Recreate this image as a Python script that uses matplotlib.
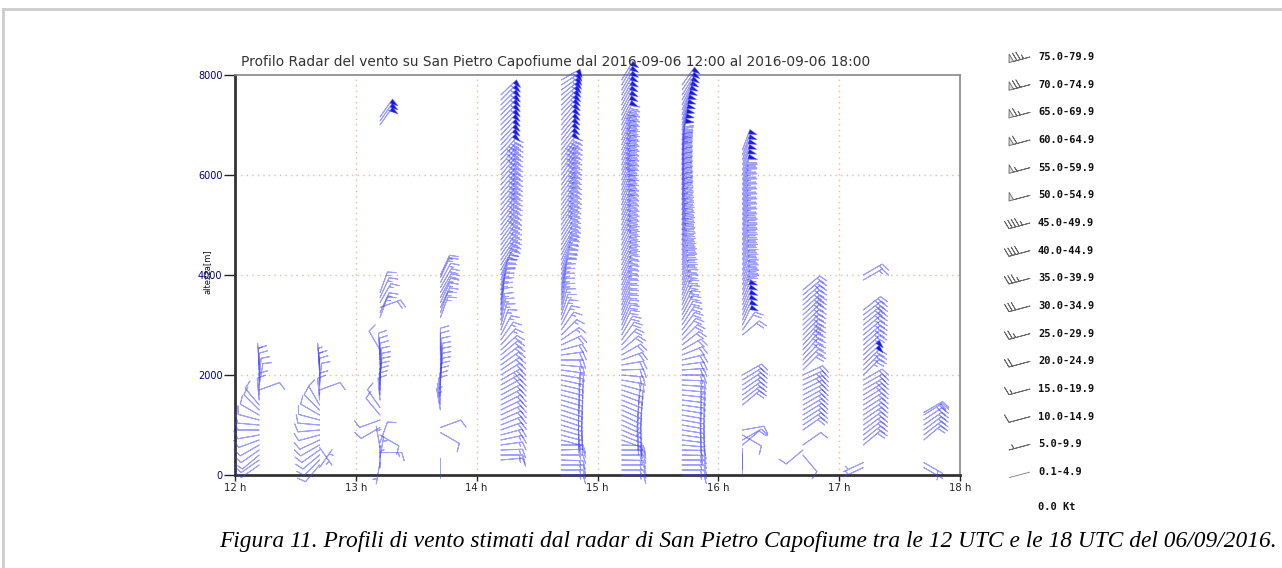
import numpy as np
import matplotlib
matplotlib.use('Agg')
import matplotlib.pyplot as plt
from matplotlib.lines import Line2D

# Radar wind profiles, San Pietro Capofiume, 2016-09-06 12-18 UTC
# one profile every 30 min; height [m], speed [kt], direction [deg, wind from]

t_1212 = 12.2
h_1212 = [200, 300, 400, 500, 600, 700, 800, 900, 1000, 1100, 1200, 1300, 1400,
          1500, 1600, 1700, 1800, 1900, 2000, 2100, 2200]
s_1212 = [12, 12, 11, 12, 13, 12, 11, 12, 12, 11, 10, 10, 12,
          10, 10, 11, 12, 11, 10, 10, 9]
d_1212 = [55, 55, 50, 55, 60, 70, 80, 90, 95, 105, 120, 135, 140,
          175, 180, 250, 190, 185, 180, 178, 176]

t_1242 = 12.7
h_1242 = [150, 200, 300, 400, 500, 550, 600, 700, 800, 900, 1000, 1100, 1200, 1300, 1400,
          1500, 1600, 1700, 1800, 1900, 2000, 2100, 2200]
s_1242 = [8, 12, 12, 13, 12, 8, 12, 13, 12, 12, 12, 12, 11, 10, 10,
          10, 10, 12, 11, 10, 10, 9, 9]
d_1242 = [215, 40, 45, 50, 55, 325, 60, 65, 75, 85, 95, 105, 120, 135, 150,
          175, 180, 250, 185, 180, 178, 176, 175]

t_1312 = 13.2
h_1312 = [150, 250, 350, 450, 550, 650, 800, 950, 1100, 1200, 1350,
          1500, 1600, 1700, 1800, 1900, 2000, 2100, 2200, 2300, 2400, 2500,
          3150, 3250, 3350, 3450, 3550, 3650,
          7000, 7080, 7160]
s_1312 = [8, 6, 9, 15, 8, 10, 10, 12, 12, 10, 10,
          10, 11, 12, 12, 12, 13, 13, 12, 12, 11, 10,
          15, 18, 20, 18, 15, 15,
          52, 55, 52]
d_1312 = [180, 10, 190, 270, 170, 200, 300, 60, 70, 140, 145,
          175, 178, 180, 182, 185, 185, 183, 180, 178, 176, 150,
          200, 205, 250, 210, 205, 200,
          215, 215, 215]

t_1342 = 13.7
h_1342 = [350, 850, 950,
          1300, 1400, 1500, 1600, 1700, 1800, 1900, 2000, 2100, 2200, 2300, 2400, 2500,
          3150, 3250, 3350, 3450, 3550, 3650, 3750, 3850, 3950, 4000]
s_1342 = [4, 10, 12,
          8, 9, 10, 10, 11, 12, 12, 13, 13, 12, 12, 12, 11,
          15, 15, 18, 18, 18, 20, 20, 18, 18, 15]
d_1342 = [0, 300, 250,
          170, 172, 175, 178, 180, 182, 185, 185, 185, 185, 183, 180, 180,
          200, 200, 205, 205, 208, 210, 210, 208, 205, 205]

# range gates of the full profiles [m]
gates = [0, 100, 200, 300, 400, 500, 600, 700, 800, 900,
         1000, 1100, 1200, 1300, 1400, 1500, 1600, 1700, 1800, 1900,
         2000, 2100, 2200, 2300, 2400, 2500, 2600, 2700, 2800, 2900,
         3000, 3100, 3200, 3300, 3400, 3500, 3600, 3700, 3800, 3900,
         4000, 4100, 4200, 4300, 4400, 4500, 4600, 4700, 4800, 4900,
         5000, 5100, 5200, 5300, 5400, 5500, 5600, 5700, 5800, 5900,
         6000, 6100, 6200, 6300, 6400, 6500, 6600, 6700, 6800, 6900,
         7000, 7100, 7200, 7300, 7400, 7500, 7600, 7700, 7800, 7900]

t_1412 = 14.2
h_1412 = gates[3:77]
s_1412 = [15, 16, 16, 18, 18, 20,
          20, 20, 22, 22, 22, 23, 24, 24, 24, 25, 25, 24, 24, 23, 22, 22, 20,
          18, 18, 16, 16,
          16, 16, 15, 15, 16, 17, 18, 18, 20, 20,
          22, 25, 28, 30, 30,
          30, 32, 32, 34, 35, 35, 36, 38, 38, 40, 40, 42, 42, 44, 44, 45, 45, 46, 47, 48,
          50, 50, 52, 52, 53, 54, 55, 55, 56, 56, 57, 58]
d_1412 = [265, 270, 268, 262, 258, 255,
          250, 248, 246, 245, 244, 243, 242, 242, 241, 240, 240, 238, 236, 234, 232, 230, 228,
          222, 215, 208, 200,
          195, 192, 190, 188, 188, 190, 192, 195, 198, 200,
          205, 210, 212, 214, 215,
          215, 215, 216, 216, 217, 217, 218, 218, 218, 219, 219, 219, 220, 220, 220, 220, 221, 221, 221, 222,
          222, 222, 223, 223, 223, 224, 224, 224, 225, 225, 225, 226]

t_1442 = 14.7
h_1442 = gates[0:80]
s_1442 = [18, 18, 17, 18, 19, 18, 18,
          20, 20, 21, 22, 22, 22, 23, 23, 24, 24, 24, 24, 24, 23, 23, 22, 22, 21, 20, 20, 19, 18,
          18, 17, 17, 16, 16, 16, 17, 17, 18, 18, 19, 20, 22, 24, 26, 28,
          30, 31, 32, 33, 34, 35, 36, 37, 38, 38, 39, 40, 41, 42, 43, 44, 45, 46, 47, 48,
          50, 51, 52, 53, 54, 55, 55, 56, 57, 58, 58, 59, 60, 60, 60]
d_1442 = [270, 270, 270, 272, 270, 268, 270,
          285, 285, 286, 287, 288, 288, 288, 287, 286, 285, 284, 283, 282, 280, 278, 275, 270, 262, 255, 245, 235, 225,
          215, 208, 202, 198, 195, 193, 192, 192, 193, 195, 197, 200, 202, 204, 206, 208,
          210, 210, 211, 211, 212, 212, 213, 213, 213, 214, 214, 214, 215, 215, 215, 215, 216, 216, 216, 217,
          217, 218, 218, 219, 220, 220, 221, 222, 224, 226, 228, 231, 234, 237, 240]

t_1512 = 15.2
h_1512 = gates[0:80]
s_1512 = [18, 18, 19, 19, 20, 20, 20,
          22, 22, 22, 23, 23, 23, 24, 24, 24, 24, 24, 23, 23, 22, 22, 22, 21, 21, 20, 20, 20, 20,
          20, 20, 21, 21, 22, 22, 23, 24, 25, 26, 27, 28, 29, 30, 31, 32,
          33, 34, 35, 36, 36, 37, 38, 38, 39, 40, 40, 41, 42, 43, 44, 45, 46, 46, 47, 48,
          48, 49, 49, 49, 49, 49, 50, 52, 54, 55, 56, 57, 58, 58, 58]
d_1512 = [270, 270, 270, 271, 270, 270, 272,
          290, 292, 293, 294, 295, 295, 294, 293, 292, 290, 288, 285, 280, 275, 268, 260, 250, 240, 230, 222, 215, 210,
          205, 204, 203, 202, 202, 202, 202, 203, 203, 204, 204, 205, 205, 205, 205, 205,
          205, 205, 204, 204, 204, 203, 203, 203, 203, 202, 202, 202, 202, 203, 203, 203, 204, 204, 204, 205,
          205, 205, 206, 206, 206, 206, 207, 207, 208, 208, 209, 209, 210, 210, 211]

t_1542 = 15.7
h_1542 = gates[0:79]
s_1542 = [18, 18, 19, 19, 20, 20,
          21, 22, 22, 22, 23, 23, 23, 24, 24, 24, 24, 23, 23, 22, 22, 21, 21, 20, 20,
          20, 21, 21, 22, 22, 23, 24, 25, 26, 26, 27, 28, 29, 29, 30, 30, 31, 32, 32, 33,
          33, 34, 34, 35, 35, 36, 37, 37, 38, 38, 39, 40, 40, 41, 41, 42, 43, 43, 44, 44,
          46, 48, 50, 51, 52, 52, 53, 53, 54, 54, 55, 55, 55, 55]
d_1542 = [270, 270, 270, 270, 271, 271,
          275, 277, 278, 279, 280, 280, 280, 279, 278, 277, 276, 275, 274, 272, 270, 266, 262, 256, 248,
          240, 232, 225, 220, 216, 213, 210, 208, 206, 204, 202, 200, 199, 198, 197, 196, 195, 194, 193, 192,
          191, 190, 190, 189, 189, 188, 188, 187, 187, 186, 186, 186, 185, 185, 185, 185, 185, 185, 185, 186,
          187, 188, 190, 192, 194, 196, 198, 200, 203, 206, 209, 212, 214, 215]

t_1612 = 16.2
h_1612 = [0, 100, 600, 700, 800, 900,
          1400, 1500, 1600, 1700, 1800, 1900, 2000] + gates[28:66]
s_1612 = [3, 3, 12, 12, 10, 12,
          20, 22, 22, 24, 24, 22, 20,
          20, 20, 50, 52, 54, 55, 53, 52, 38, 36, 35, 35, 34, 33, 32, 32, 31, 30, 30, 30,
          30, 30, 28, 28, 27, 27, 26, 26, 25, 25, 28, 30, 50, 52, 53, 54, 55, 55]
d_1612 = [180, 180, 230, 240, 300, 260,
          230, 232, 234, 235, 236, 238, 240,
          230, 215, 205, 204, 203, 203, 202, 202, 200, 200, 199, 199, 198, 198, 197, 197, 197, 196, 196, 196,
          195, 195, 195, 195, 195, 195, 195, 195, 195, 195, 196, 197, 198, 198, 199, 199, 200, 200]

t_1642 = 16.7
h_1642 = [400, 500, 600] + gates[9:21] + gates[21:38]
s_1642 = [10, 10, 10,
          20, 20, 21, 22, 22, 23, 23, 24, 24, 25, 25, 24,
          22, 22, 24, 25, 26, 28, 30, 30, 28, 26, 26, 28, 30, 30, 28, 25, 22]
d_1642 = [320, 50, 235,
          235, 236, 237, 238, 239, 240, 241, 242, 243, 244, 245, 245,
          225, 224, 223, 222, 222, 222, 223, 224, 225, 226, 226, 227, 228, 228, 229, 230, 230]

t_1712 = 17.2
h_1712 = [150, 250] + gates[6:20] + gates[20:34] + [3900, 4000]
s_1712 = [8, 8,
          20, 20, 21, 21, 22, 22, 23, 23, 24, 24, 25, 25, 24, 24,
          25, 26, 26, 50, 50, 27, 27, 28, 28, 29, 29, 30, 30, 28,
          15, 16]
d_1712 = [65, 65,
          230, 231, 232, 233, 234, 235, 236, 237, 237, 238, 238, 239, 240, 240,
          225, 226, 226, 227, 227, 228, 228, 229, 230, 230, 231, 231, 232, 232,
          240, 240]

t_1742 = 17.7
h_1742 = [150, 250, 700, 800, 900, 1000, 1100, 1200, 1250]
s_1742 = [8, 8, 20, 21, 22, 23, 24, 25, 24]
d_1742 = [300, 300, 230, 232, 233, 235, 236, 238, 240]

profiles = [
    (t_1212, h_1212, s_1212, d_1212),
    (t_1242, h_1242, s_1242, d_1242),
    (t_1312, h_1312, s_1312, d_1312),
    (t_1342, h_1342, s_1342, d_1342),
    (t_1412, h_1412, s_1412, d_1412),
    (t_1442, h_1442, s_1442, d_1442),
    (t_1512, h_1512, s_1512, d_1512),
    (t_1542, h_1542, s_1542, d_1542),
    (t_1612, h_1612, s_1612, d_1612),
    (t_1642, h_1642, s_1642, d_1642),
    (t_1712, h_1712, s_1712, d_1712),
    (t_1742, h_1742, s_1742, d_1742),
]

# legend of speed classes
leg_labels = ['75.0-79.9', '70.0-74.9', '65.0-69.9', '60.0-64.9', '55.0-59.9', '50.0-54.9',
              '45.0-49.9', '40.0-44.9', '35.0-39.9', '30.0-34.9', '25.0-29.9', '20.0-24.9',
              '15.0-19.9', '10.0-14.9', '5.0-9.9', '0.1-4.9', '0.0 Kt']
leg_speed = [77.5, 72.5, 67.5, 62.5, 57.5, 52.5, 47.5, 42.5, 37.5, 32.5, 27.5, 22.5,
             17.5, 12.5, 7.5, 2.5, 0.0]
leg_dir = 75

DPI = 100
BARB_LEN = 5.6           # matplotlib barb length parameter
STAFF_PX = BARB_LEN ** 2 / 2 * DPI / 72.0
LINE_C = (0.25, 0.25, 1.0, 0.5)
FLAG_C = (0.0, 0.0, 0.85, 0.9)


def draw_barbs(ax, x, y, spd, wdir, lc, fc, lw):
    x = np.asarray(x, float)
    y = np.asarray(y, float)
    spd = np.asarray(spd, float)
    rad = np.radians(np.asarray(wdir, float))
    # staff drawn towards where the wind blows
    u = spd * np.sin(rad)
    v = spd * np.cos(rad)
    fast = spd >= 5
    if fast.any():
        ax.barbs(x[fast], y[fast], u[fast], v[fast], length=BARB_LEN, rounding=False,
                 barbcolor=[lc], flagcolor=[fc], linewidth=lw,
                 sizes=dict(spacing=0.16, height=0.38, width=0.22), zorder=3, clip_on=False)
    slow = (spd > 0) & ~fast
    if slow.any():
        ax.quiver(x[slow], y[slow], -np.sin(rad[slow]) * STAFF_PX, -np.cos(rad[slow]) * STAFF_PX,
                  angles='uv', scale_units='dots', scale=1, units='dots', width=lw * 1.2,
                  headwidth=0, headlength=0, headaxislength=0, color=[lc], pivot='tail',
                  zorder=3, clip_on=False)


fig = plt.figure(figsize=(12.82, 5.68), dpi=DPI)
ax = fig.add_axes([235 / 1282, 1 - 475 / 568, 725 / 1282, 400 / 568])

for t, h, s, d in profiles:
    draw_barbs(ax, [t] * len(h), h, s, d, LINE_C, FLAG_C, 0.7)

ax.set_xlim(12, 18)
ax.set_ylim(0, 8000)
ax.set_xticks(range(12, 19))
ax.set_xticklabels(['%d h' % k for k in range(12, 19)])
ax.set_yticks([0, 2000, 4000, 6000, 8000])
ax.tick_params(axis='x', labelsize=7.3, length=4, width=1, colors='#222222', pad=2)
ax.tick_params(axis='y', labelsize=7, length=8, width=1, colors='#222222', labelcolor='#000080', pad=1)
for xg in range(13, 18):
    ax.axvline(xg, color='#f2b49c', lw=1, ls=(0, (1, 3)), zorder=1)
for yg in [2000, 4000, 6000]:
    ax.axhline(yg, color='#f2b49c', lw=1, ls=(0, (1, 3)), zorder=1)
for side in ['left', 'bottom']:
    ax.spines[side].set_color('#333333')
    ax.spines[side].set_linewidth(2)
for side in ['top', 'right']:
    ax.spines[side].set_color('#888888')
    ax.spines[side].set_linewidth(1.2)

fig.text(241 / 1282, 1 - 62 / 568,
         'Profilo Radar del vento su San Pietro Capofiume dal 2016-09-06 12:00 al 2016-09-06 18:00',
         fontsize=9.9, color='#333333', ha='left', va='center')
fig.text(207 / 1282, 1 - 272 / 568, 'altezza[m]', rotation=90, fontsize=6,
         ha='center', va='center', color='#111111')

# legend panel
lax = fig.add_axes([990 / 1282, 0, 130 / 1282, 1])
lax.set_xlim(990, 1120)
lax.set_ylim(568, 0)
lax.axis('off')
leg_y = [57 + 27.67 * i for i in range(16)] + [507]
draw_barbs(lax, [1030] * 16, leg_y[:16], leg_speed[:16], [leg_dir] * 16,
           (0.3, 0.3, 0.3, 0.85), (0.85, 0.85, 0.85, 1.0), 0.6)
for yy, lab in zip(leg_y, leg_labels):
    lax.text(1038, yy, lab, fontsize=7.5, family='DejaVu Sans Mono', weight='bold',
             ha='left', va='center', color='#111111')

fig.text(748 / 1282, 1 - 541 / 568,
         'Figura 11. Profili di vento stimati dal radar di San Pietro Capofiume tra le 12 UTC e le 18 UTC del 06/09/2016.',
         fontsize=16.85, family='Liberation Serif', style='italic', ha='center', va='center',
         color='black')

fig.add_artist(Line2D([3 / 1282, 1], [1 - 9 / 568, 1 - 9 / 568], color='#cccccc', lw=2))
fig.add_artist(Line2D([3 / 1282, 3 / 1282], [0, 1 - 9 / 568], color='#cccccc', lw=2))

fig.savefig('out.png', dpi=DPI)
